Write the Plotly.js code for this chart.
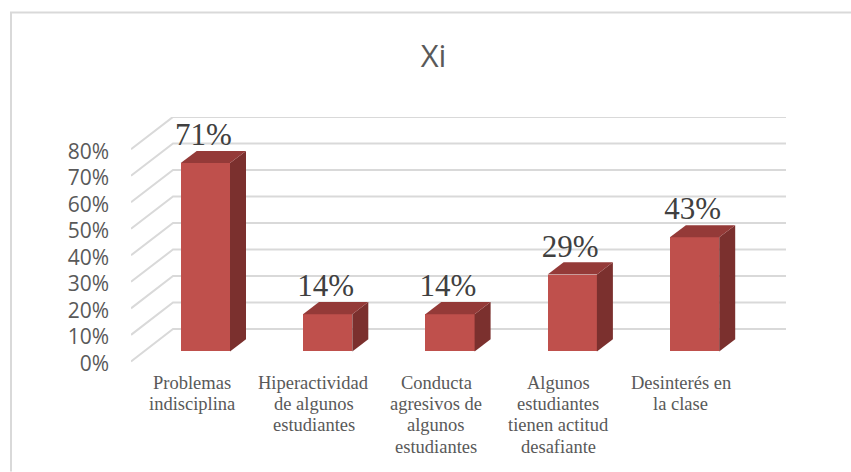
<!DOCTYPE html>
<html><head><meta charset="utf-8">
<script src="https://cdn.plot.ly/plotly-3.0.1.min.js"></script>
<style>html,body{margin:0;padding:0;background:#fff}</style></head>
<body><div id="chart" style="width:851px;height:472px"></div>
<script>
const categoryLines = [
  ["Problemas","indisciplina"],
  ["Hiperactividad","de algunos","estudiantes"],
  ["Conducta","agresivos de","algunos","estudiantes"],
  ["Algunos","estudiantes","tienen actitud","desafiante"],
  ["Desinterés en","la clase"]
];
const values = [71, 14, 14, 29, 43];
const valueLabels = ["71%","14%","14%","29%","43%"];
const yTicks = [0,10,20,30,40,50,60,70,80];
const yTickLabels = ["0%","10%","20%","30%","40%","50%","60%","70%","80%"];

const W=851,H=472, L=131,R=786,TOP=116.7,BOT=361.7;
const pxX=122.3, pxY=(361.7-149)/80;
const xMin=(L-191)/pxX, xMax=(R-191)/pxX, yMax=(BOT-TOP)/pxY;
const yMin=-4, BOTTOM=BOT+4*pxY;
const cats=categoryLines.map((_,i)=>i);
const floorLift=10/pxY, barOff=-10.3/pxX, barW=49.3/pxX, depthX=16/pxX, depthY=12.2/pxY;
const wallX=xMin+42/pxX, wallY=32.4/pxY;
const labelNudge=2.2/pxY, dataLabelDrop=2/pxY;

const gridShapes=yTicks.map(v=>({type:'path',layer:'below',xref:'x',yref:'y',
  path:`M ${xMin} ${v} L ${wallX} ${v+wallY} L ${xMax} ${v+wallY}`,line:{color:'#d9d9d9',width:2}}));

const traces=[{type:'bar',x:cats,y:values,base:cats.map(()=>floorLift),width:barW,offset:barOff,
  marker:{color:'#bf504c',line:{width:0}},showlegend:false}];
values.forEach((v,i)=>{
  const a=i+barOff,b=a+barW,y0=floorLift,y1=floorLift+v;
  traces.push({type:'scatter',mode:'lines',fill:'toself',fillcolor:'#7b302e',line:{width:0,color:'#7b302e'},
    x:[b,b+depthX,b+depthX,b,b],y:[y0,y0+depthY,y1+depthY,y1,y0],hoverinfo:'skip',showlegend:false});
  traces.push({type:'scatter',mode:'lines',fill:'toself',fillcolor:'#943a38',line:{width:0,color:'#943a38'},
    x:[a,a+depthX,b+depthX,b,a],y:[y1,y1+depthY,y1+depthY,y1,y1],hoverinfo:'skip',showlegend:false});
});
traces.push({type:'scatter',mode:'text',x:cats.map(i=>i+barOff+barW/2-2/pxX),
  y:values.map(v=>v+floorLift+depthY-dataLabelDrop),text:valueLabels,textposition:'top center',
  textfont:{family:'"Liberation Serif",serif',size:31,color:'#404040'},cliponaxis:false,hoverinfo:'skip',showlegend:false});

const annotations=[];
categoryLines.forEach((lines,i)=>lines.forEach((t,k)=>annotations.push({
  text:t,xref:'x',yref:'paper',x:i+0.5/pxX,y:0,xanchor:'center',yanchor:'middle',showarrow:false,
  yshift:(BOTTOM-BOT)-(21.5+21.3*k),font:{family:'"Liberation Serif",serif',size:18.5,color:'#595959'}
})));

const fx=p=>(p-L)/(R-L), fy=p=>(BOTTOM-p)/(BOTTOM-TOP);
const layout={
  width:W,height:H,margin:{l:L,r:W-R,t:TOP,b:H-BOTTOM,pad:0},
  paper_bgcolor:'#fff',plot_bgcolor:'rgba(0,0,0,0)',showlegend:false,bargap:0,
  title:{text:'Xi',x:433.5/W,xref:'container',xanchor:'center',y:1-56.5/H,yref:'container',yanchor:'middle',
    font:{family:'"Open Sans",sans-serif',size:31,weight:400,color:'#595959'}},
  xaxis:{range:[xMin,xMax],showgrid:false,zeroline:false,showline:false,showticklabels:false,ticks:''},
  yaxis:{range:[yMin,yMax],tickmode:'array',tickvals:yTicks.map(v=>v-labelNudge),ticktext:yTickLabels,showgrid:false,zeroline:false,showline:false,
    ticks:'',ticklabelstandoff:21,tickfont:{family:'"Open Sans",sans-serif',size:21,color:'#595959'}},
  annotations,
  shapes:gridShapes.concat([{type:'path',xref:'paper',yref:'paper',
    path:`M ${fx(11)} ${fy(H)} L ${fx(11)} ${fy(12)} L ${fx(W)} ${fy(12)}`,
    line:{color:'#d9d9d9',width:2}}])
};
Plotly.newPlot('chart',traces,layout,{displayModeBar:false});
</script></body></html>
